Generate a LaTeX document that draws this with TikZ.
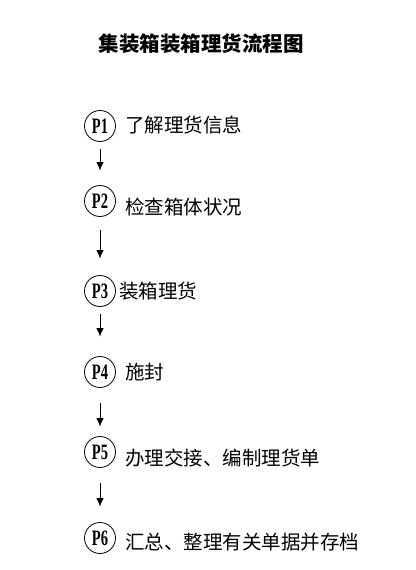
\documentclass[tikz,border=0pt]{standalone}
\usepackage{fontspec}
\usepackage{tikz}
\usetikzlibrary{arrows.meta,positioning}
\setmainfont{Liberation Serif}
\newfontfamily\cjkfont{Noto Sans CJK SC}
\tikzset{
  pstep/.style={draw, circle, thick, minimum width=31pt, minimum height=30pt, inner sep=0pt,
    font=\fontsize{22}{22}\selectfont\bfseries},
  ptext/.style={anchor=west, inner sep=0pt, text height=0.82em, text depth=0.18em, yshift=-2.5pt,
    font=\fontsize{19.5}{19.5}\cjkfont},
  flowarrow/.style={-{Latex[length=3mm,width=2.6mm]}, thick}
}
\begin{document}
\begin{tikzpicture}[x=1pt,y=-1pt]
        \useasboundingbox (0,0) rectangle (415,570);
        \node[font=\fontsize{20.5}{20.5}\cjkfont\bfseries] (title) at (201,44) {集装箱装箱理货流程图};
        % steps
        \node[pstep] (p1) at (100,126) {\scalebox{0.66}[1]{P1}};
        \node[pstep] (p2) at (100,201) {\scalebox{0.66}[1]{P2}};
        \node[pstep] (p3) at (100,291) {\scalebox{0.66}[1]{P3}};
        \node[pstep] (p4) at (100,372) {\scalebox{0.66}[1]{P4}};
        \node[pstep] (p5) at (100,452) {\scalebox{0.66}[1]{P5}};
        \node[pstep] (p6) at (100,538) {\scalebox{0.66}[1]{P6}};
        % labels
        \node[ptext] (t1) at (125,127) {了解理货信息};
        \node[ptext] (t2) at (125,208.5) {检查箱体状况};
        \node[ptext] (t3) at (119,293) {装箱理货};
        \node[ptext] (t4) at (125,373.5) {施封};
        \node[ptext] (t5) at (125,460) {办理交接、编制理货单};
        \node[ptext] (t6) at (125,543.5) {汇总、整理有关单据并存档};
        % arrows
        \draw[flowarrow, shorten <=7.5pt, shorten >=14.5pt] (p1) -- (p2);
        \draw[flowarrow, shorten <=13.5pt, shorten >=16.5pt] (p2) -- (p3);
        \draw[flowarrow, shorten <=7.5pt, shorten >=19.5pt] (p3) -- (p4);
        \draw[flowarrow, shorten <=15pt, shorten >=9.5pt] (p4) -- (p5);
        \draw[flowarrow, shorten <=15.5pt, shorten >=15.5pt] (p5) -- (p6);
      \end{tikzpicture}
\end{document}
